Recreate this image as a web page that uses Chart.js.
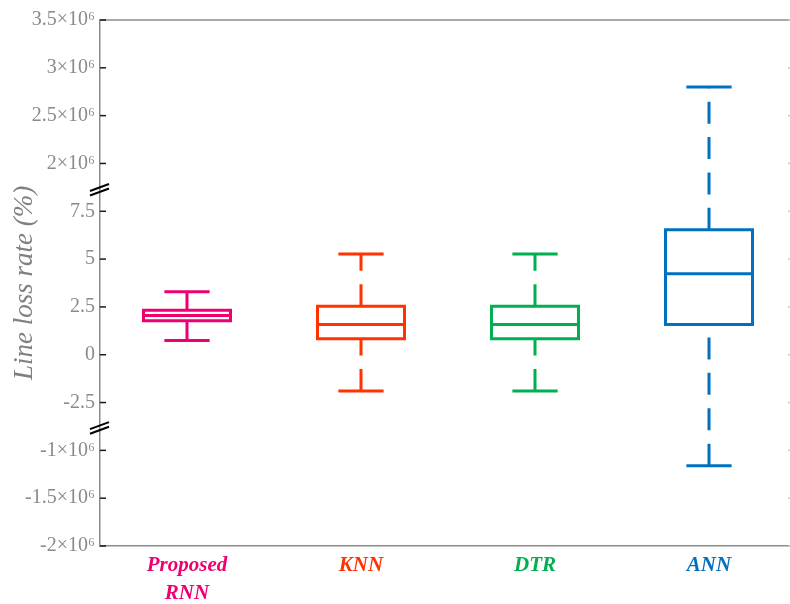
<!DOCTYPE html>
<html>
<head>
<meta charset="utf-8">
<script src="https://cdn.jsdelivr.net/npm/chart.js@4"></script>
<style>
  html, body { margin: 0; padding: 0; background: #ffffff; overflow: hidden; }
  canvas { display: block; }
</style>
</head>
<body>
<canvas id="chart" width="800" height="604"></canvas>
<script>
// Box plot statistics per model
const categories = ['Proposed RNN', 'KNN', 'DTR', 'ANN'];
const xTickLabels = [['Proposed', 'RNN'], 'KNN', 'DTR', 'ANN'];
const whiskerLow = [0.74, -1.89, -1.89, -1.16e6];
const quartile1 = [1.77, 0.84, 0.84, 1.58];
const medians = [2.05, 1.58, 1.58, 4.24];
const quartile3 = [2.33, 2.54, 2.54, 6.53];
const whiskerHigh = [3.29, 5.26, 5.26, 2.8e6];

// Broken y axis: every tick sits one equal step from the next
const tickValues = [-2e6, -1.5e6, -1e6, -2.5, 0, 2.5, 5, 7.5, 2e6, 2.5e6, 3e6, 3.5e6];

const seriesColors = ['#EE0070', '#FF3300', '#00B050', '#0070C0'];
const BOX_HALF = 0.25;
const CAP_HALF = 0.13;

// value -> position in tick steps (piecewise linear between ticks)
function toAxis(v) {
  const n = tickValues.length;
  if (v <= tickValues[0]) return (v - tickValues[0]) / (tickValues[1] - tickValues[0]);
  for (let i = 0; i < n - 1; i++) {
    const a = tickValues[i], b = tickValues[i + 1];
    if (v <= b) return i + (v - a) / (b - a);
  }
  return (n - 1) + (v - tickValues[n - 1]) / (tickValues[n - 1] - tickValues[n - 2]);
}
function fromAxis(p) {
  const n = tickValues.length;
  const i = Math.max(0, Math.min(n - 2, Math.floor(p)));
  const a = tickValues[i], b = tickValues[i + 1];
  return a + (p - i) * (b - a);
}

class BrokenLinearScale extends Chart.LinearScale {
  static id = 'brokenLinear';
  static defaults = {};
  buildTicks() {
    return tickValues.map(v => ({ value: v }));
  }
  getPixelForValue(value) {
    return this.getPixelForDecimal(toAxis(value) / (tickValues.length - 1));
  }
  getValueForPixel(pixel) {
    return fromAxis(this.getDecimalForPixel(pixel) * (tickValues.length - 1));
  }
}
Chart.register(BrokenLinearScale);

function formatTick(v) {
  if (Math.abs(v) >= 1e6) return (v / 1e6) + '\u00D710\u2076';
  return String(v);
}

const lineStyle = (color) => ({
  type: 'line',
  borderColor: color,
  backgroundColor: color,
  borderWidth: 3,
  pointRadius: 0,
  pointHoverRadius: 0,
  fill: false,
  tension: 0,
  borderCapStyle: 'butt',
  borderJoinStyle: 'miter'
});

const datasets = [];
categories.forEach((name, i) => {
  const x = i + 1;
  const c = seriesColors[i];
  // box
  datasets.push(Object.assign(lineStyle(c), {
    label: name + ' box',
    data: [
      { x: x, y: quartile1[i] }, { x: x + BOX_HALF, y: quartile1[i] },
      { x: x + BOX_HALF, y: quartile3[i] }, { x: x - BOX_HALF, y: quartile3[i] },
      { x: x - BOX_HALF, y: quartile1[i] }, { x: x, y: quartile1[i] }
    ]
  }));
  // median
  datasets.push(Object.assign(lineStyle(c), {
    label: name + ' median',
    data: [{ x: x - BOX_HALF, y: medians[i] }, { x: x + BOX_HALF, y: medians[i] }]
  }));
  // whiskers (dashed, drawn upwards)
  datasets.push(Object.assign(lineStyle(c), {
    label: name + ' lower whisker',
    borderDash: [22, 13.4],
    data: [{ x: x, y: whiskerLow[i] }, { x: x, y: quartile1[i] }]
  }));
  datasets.push(Object.assign(lineStyle(c), {
    label: name + ' upper whisker',
    borderDash: [22, 13.4],
    data: [{ x: x, y: quartile3[i] }, { x: x, y: whiskerHigh[i] }]
  }));
  // caps
  datasets.push(Object.assign(lineStyle(c), {
    label: name + ' lower cap',
    data: [{ x: x - CAP_HALF, y: whiskerLow[i] }, { x: x + CAP_HALF, y: whiskerLow[i] }]
  }));
  datasets.push(Object.assign(lineStyle(c), {
    label: name + ' upper cap',
    data: [{ x: x - CAP_HALF, y: whiskerHigh[i] }, { x: x + CAP_HALF, y: whiskerHigh[i] }]
  }));
});

// frame, inward ticks and axis-break marks
const framePlugin = {
  id: 'frame',
  afterDraw(chart) {
    const { ctx, chartArea } = chart;
    const y = chart.scales.y;
    ctx.save();
    // top border
    ctx.strokeStyle = '#8c8c8c';
    ctx.lineWidth = 1.5;
    ctx.beginPath();
    ctx.moveTo(chartArea.left, chartArea.top);
    ctx.lineTo(chartArea.right, chartArea.top);
    ctx.stroke();
    // inward tick marks
    y.ticks.forEach((t, i) => {
      const py = y.getPixelForTick(i);
      ctx.strokeStyle = '#1a1a1a';
      ctx.lineWidth = 1.5;
      ctx.beginPath();
      ctx.moveTo(chartArea.left, py);
      ctx.lineTo(chartArea.left + 6, py);
      ctx.stroke();
      ctx.strokeStyle = '#c8c8c8';
      ctx.beginPath();
      ctx.moveTo(chartArea.right - 8, py);
      ctx.lineTo(chartArea.right, py);
      ctx.stroke();
    });
    // break marks between 7.5 and 2e6, and between -2.5 and -1e6
    const n = tickValues.length - 1;
    [7.45, 2.47].forEach(p => {
      const py = y.getPixelForDecimal(p / n);
      ctx.strokeStyle = '#000000';
      ctx.lineWidth = 2;
      [-2.3, 2.3].forEach(off => {
        ctx.beginPath();
        ctx.moveTo(chartArea.left - 10, py + off + 3.5);
        ctx.lineTo(chartArea.left + 9, py + off - 3.5);
        ctx.stroke();
      });
    });
    ctx.restore();
  }
};

new Chart(document.getElementById('chart'), {
  type: 'line',
  data: { datasets },
  options: {
    responsive: false,
    devicePixelRatio: 1,
    animation: false,
    layout: { padding: { top: 20, right: 4, left: 0, bottom: 0 } },
    plugins: { legend: { display: false }, tooltip: { enabled: false } },
    scales: {
      x: {
        type: 'linear',
        min: 0.5,
        max: 4.5,
        afterBuildTicks: axis => { axis.ticks = categories.map((_, i) => ({ value: i + 1 })); },
        afterFit: scale => { scale.height = 58; },
        grid: { display: false, drawTicks: false },
        border: { display: true, color: '#8c8c8c', width: 1.5 },
        ticks: {
          autoSkip: false,
          maxRotation: 0,
          padding: 6,
          callback: v => xTickLabels[Math.round(v) - 1],
          color: ctx => seriesColors[ctx.index],
          font: { family: 'Liberation Serif', size: 21, style: 'italic', weight: 'bold', lineHeight: 1.33 }
        }
      },
      y: {
        type: 'brokenLinear',
        min: -2e6,
        max: 3.5e6,
        afterFit: scale => { scale.width = 100; },
        grid: { display: false, drawTicks: false },
        border: { display: true, color: '#8c8c8c', width: 1.5 },
        ticks: {
          autoSkip: false,
          padding: 5,
          color: '#8a8a8a',
          callback: v => formatTick(v),
          font: { family: 'Liberation Serif', size: 20 }
        },
        title: {
          display: true,
          text: 'Line loss rate (%)',
          color: '#808080',
          padding: { top: 9, bottom: 0 },
          font: { family: 'Liberation Serif', size: 27, style: 'italic' }
        }
      }
    }
  },
  plugins: [framePlugin]
});
</script>
</body>
</html>
